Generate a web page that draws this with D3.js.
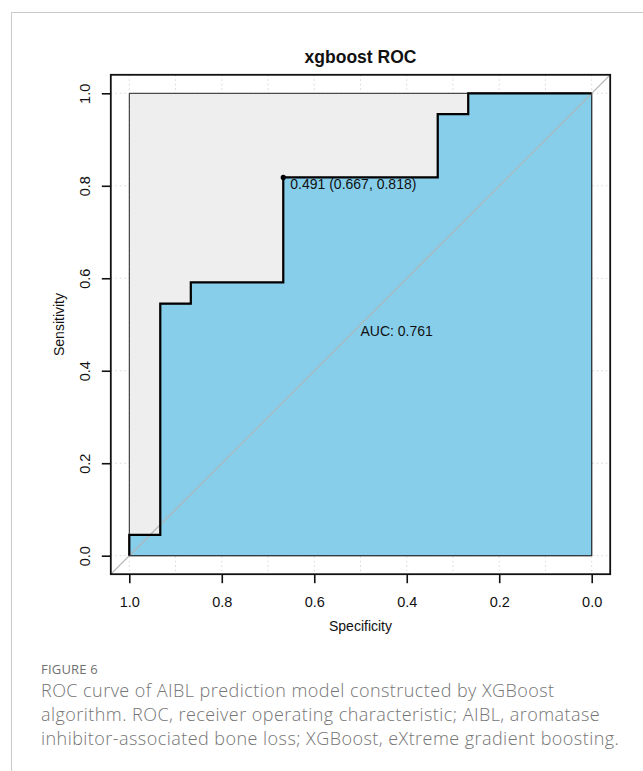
<!DOCTYPE html>
<html>
<head>
<meta charset="utf-8">
<script src="https://cdn.jsdelivr.net/npm/d3@7"></script>
<style>
  html, body { margin: 0; padding: 0; background: #fff; }
  svg { display: block; }
</style>
</head>
<body>
<svg id="chart" width="643" height="771"></svg>
<script>
// ---- data ----
const title = "xgboost ROC";
const specificity = [1.000, 1.000, 0.933, 0.933, 0.867, 0.867, 0.667, 0.667, 0.333, 0.333, 0.267, 0.267, 0.000];
const sensitivity = [0.000, 0.045, 0.045, 0.545, 0.545, 0.591, 0.591, 0.818, 0.818, 0.955, 0.955, 1.000, 1.000];
const bestThreshold = { label: "0.491 (0.667, 0.818)", spec: 0.667, sens: 0.818 };
const aucLabel = "AUC: 0.761";
const aucPos = { spec: 0.5, sens: 0.5 };
const xTicks = [1.0, 0.8, 0.6, 0.4, 0.2, 0.0];
const yTicks = [0.0, 0.2, 0.4, 0.6, 0.8, 1.0];
const xGrid = [1.0, 0.9, 0.8, 0.7, 0.6, 0.5, 0.4, 0.3, 0.2, 0.1, 0.0];
const yGrid = [0.0, 0.2, 0.4, 0.6, 0.8, 1.0];
const xLabel = "Specificity";
const yLabel = "Sensitivity";
const figLabel = "FIGURE 6";
const captionLines = [
  "ROC curve of AIBL prediction model constructed by XGBoost",
  "algorithm. ROC, receiver operating characteristic; AIBL, aromatase",
  "inhibitor-associated bone loss; XGBoost, eXtreme gradient boosting."
];

// ---- layout ----
const svg = d3.select("#chart");
const W = 643, H = 771;
const font = "'Liberation Sans', Arial, Helvetica, sans-serif";

const x = d3.scaleLinear().domain([1, 0]).range([129.3, 591.7]);
const y = d3.scaleLinear().domain([0, 1]).range([555.7, 93.3]);
const pad = 0.04;
const bx0 = x(1 + pad), bx1 = x(-pad), by0 = y(1 + pad), by1 = y(-pad);

// card border
svg.append("path")
  .attr("d", `M${W},12.5 H11.5 V${H}`)
  .attr("fill", "none").attr("stroke", "#c9c9c9").attr("stroke-width", 1);

// clip for plot region
svg.append("defs").append("clipPath").attr("id", "plotclip")
  .append("rect").attr("x", bx0).attr("y", by0).attr("width", bx1 - bx0).attr("height", by1 - by0);

const plot = svg.append("g");

// grid
plot.selectAll(".vg").data(xGrid).join("line")
  .attr("x1", d => x(d)).attr("x2", d => x(d))
  .attr("y1", by0).attr("y2", by1)
  .attr("stroke", "#d6d6d6").attr("stroke-width", 1).attr("stroke-dasharray", "1.5,3");
plot.selectAll(".hg").data(yGrid).join("line")
  .attr("y1", d => y(d)).attr("y2", d => y(d))
  .attr("x1", bx0).attr("x2", bx1)
  .attr("stroke", "#d6d6d6").attr("stroke-width", 1).attr("stroke-dasharray", "1.5,3");

// max AUC polygon (grey)
const maxPoly = [[1, 0], [1, 1], [0, 1], [0, 0]];
plot.append("path")
  .attr("d", d3.line().x(d => x(d[0])).y(d => y(d[1]))(maxPoly) + "Z")
  .attr("fill", "#eeeeee").attr("stroke", "#222").attr("stroke-width", 1);

// AUC polygon (skyblue)
const pts = specificity.map((s, i) => [s, sensitivity[i]]);
const aucPoly = pts.concat([[0, 0], [1, 0]]);
plot.append("path")
  .attr("d", d3.line().x(d => x(d[0])).y(d => y(d[1]))(aucPoly) + "Z")
  .attr("fill", "#87ceeb").attr("stroke", "#222").attr("stroke-width", 1);

// diagonal reference line
plot.append("line")
  .attr("clip-path", "url(#plotclip)")
  .attr("x1", x(1 + pad)).attr("y1", y(-pad))
  .attr("x2", x(-pad)).attr("y2", y(1 + pad))
  .attr("stroke", "#b3b3b3").attr("stroke-width", 1.2);

// ROC curve
plot.append("path")
  .attr("d", d3.line().x(d => x(d[0])).y(d => y(d[1]))(pts))
  .attr("fill", "none").attr("stroke", "#000").attr("stroke-width", 2.2)
  .attr("stroke-linejoin", "miter");

// threshold point + label
plot.append("circle")
  .attr("cx", x(bestThreshold.spec)).attr("cy", y(bestThreshold.sens))
  .attr("r", 2.6).attr("fill", "#000");
plot.append("text")
  .attr("x", x(bestThreshold.spec) + 7).attr("y", y(bestThreshold.sens) + 12)
  .attr("font-family", font).attr("font-size", 14).attr("fill", "#111")
  .text(bestThreshold.label);

// AUC label
plot.append("text")
  .attr("x", x(aucPos.spec)).attr("y", y(aucPos.sens) + 11.5)
  .attr("font-family", font).attr("font-size", 14).attr("fill", "#111")
  .text(aucLabel);

// box
svg.append("rect")
  .attr("x", bx0).attr("y", by0).attr("width", bx1 - bx0).attr("height", by1 - by0)
  .attr("fill", "none").attr("stroke", "#111").attr("stroke-width", 1.8);

// axes
const xAxis = d3.axisBottom(x).tickValues(xTicks).tickFormat(d3.format(".1f"))
  .tickSize(9).tickPadding(15);
const gx = svg.append("g").attr("transform", `translate(0,${by1})`).call(xAxis);
gx.select(".domain").remove();
gx.selectAll("line").attr("stroke", "#111").attr("stroke-width", 1.6);
gx.selectAll("text").attr("font-family", font).attr("font-size", 14.5).attr("fill", "#111")
  .attr("dy", null).attr("y", 33);

const yAxis = d3.axisLeft(y).tickValues(yTicks).tickFormat(d3.format(".1f"))
  .tickSize(9).tickPadding(0);
const gy = svg.append("g").attr("transform", `translate(${bx0},0)`).call(yAxis);
gy.select(".domain").remove();
gy.selectAll("line").attr("stroke", "#111").attr("stroke-width", 1.6);
gy.selectAll("text")
  .attr("font-family", font).attr("font-size", 14.5).attr("fill", "#111")
  .attr("x", null).attr("dy", null).attr("y", null)
  .attr("text-anchor", "middle")
  .attr("transform", "translate(-20.5,0) rotate(-90)");

// axis titles
svg.append("text")
  .attr("x", (x(1) + x(0)) / 2).attr("y", 631)
  .attr("text-anchor", "middle").attr("font-family", font).attr("font-size", 14).attr("fill", "#111")
  .text(xLabel);
svg.append("text")
  .attr("transform", `translate(63.5,${(y(0) + y(1)) / 2}) rotate(-90)`)
  .attr("text-anchor", "middle").attr("font-family", font).attr("font-size", 14).attr("fill", "#111")
  .text(yLabel);

// title
svg.append("text")
  .attr("x", (bx0 + bx1) / 2).attr("y", 63)
  .attr("text-anchor", "middle").attr("font-family", font).attr("font-size", 17.5)
  .attr("font-weight", "bold").attr("fill", "#111")
  .text(title);

// caption
const capFont = "'Open Sans', 'Noto Sans', sans-serif";
svg.append("text")
  .attr("x", 41).attr("y", 674)
  .attr("font-family", capFont).attr("font-size", 13).attr("font-weight", 500)
  .attr("letter-spacing", 0.2)
  .attr("fill", "#707070")
  .text(figLabel);
svg.selectAll(".cap").data(captionLines).join("text")
  .attr("class", "cap")
  .attr("x", 41).attr("y", (d, i) => 697 + i * 24)
  .attr("font-family", capFont).attr("font-size", 18).attr("font-weight", 300)
  .attr("letter-spacing", 0.45)
  .attr("fill", "#757575")
  .text(d => d);
</script>
</body>
</html>
